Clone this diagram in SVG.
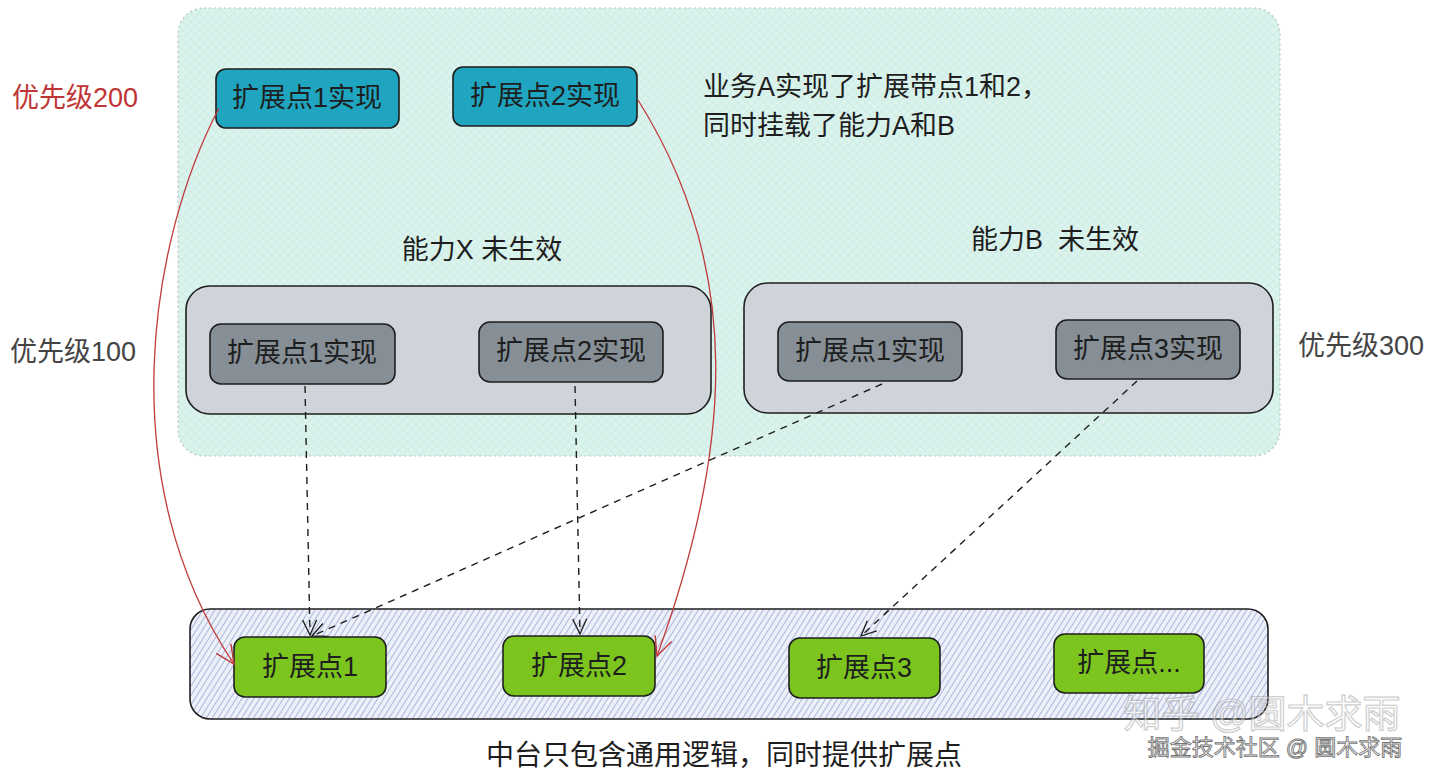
<svg xmlns="http://www.w3.org/2000/svg" width="1440" height="782" viewBox="0 0 1440 782">
<style>
text{font-family:"Liberation Sans","Noto Sans CJK SC",sans-serif;font-size:27px;fill:#1e1e1e;dominant-baseline:central;text-anchor:middle}
.lbl{text-anchor:start}
.cyan{fill:#1fa5bf;stroke:#1e1e1e;stroke-width:1.6}
.dark{fill:#868e96;stroke:#1e1e1e;stroke-width:1.6}
.grey{fill:#ced4da;stroke:#1e1e1e;stroke-width:1.6}
.green{fill:#7cc51f;stroke:#1e1e1e;stroke-width:1.6}
.dash{fill:none;stroke:#1e1e1e;stroke-width:1.4;stroke-dasharray:7 6;marker-end:url(#ah)}
.red{fill:none;stroke:#c03a3a;stroke-width:1.3;marker-end:url(#ahr)}
</style>
<defs>
<pattern id="hatch" patternUnits="userSpaceOnUse" width="5" height="5" patternTransform="rotate(32)">
<rect width="5" height="5" fill="#eef0f8"/>
<line x1="0" y1="0" x2="0" y2="5" stroke="#8599d2" stroke-width="1.3"/>
</pattern>
<pattern id="mint" patternUnits="userSpaceOnUse" width="6" height="6" patternTransform="rotate(45)">
<rect width="6" height="6" fill="#dbf3ed"/>
<line x1="0" y1="0" x2="0" y2="6" stroke="#c6e8df" stroke-width="1"/>
<line x1="0" y1="0" x2="6" y2="0" stroke="#c6e8df" stroke-width="1"/>
</pattern>
<marker id="ah" markerUnits="userSpaceOnUse" markerWidth="20" markerHeight="20" refX="16" refY="8" orient="auto" viewBox="0 0 20 16">
<path d="M1,1 L16,8 L1,15" fill="none" stroke="#1e1e1e" stroke-width="1.3"/>
</marker>
<marker id="ahr" markerUnits="userSpaceOnUse" markerWidth="22" markerHeight="22" refX="18" refY="9" orient="auto" viewBox="0 0 20 18">
<path d="M1,1 L18,9 L1,17" fill="none" stroke="#c03a3a" stroke-width="1.3"/>
</marker>
</defs>
<rect width="1440" height="782" fill="#ffffff"/>

<g id="business-area">
<rect x="178" y="8" width="1102" height="448" rx="26" fill="url(#mint)" stroke="#b9c4c0" stroke-width="1.2" stroke-dasharray="2 3"/>
</g>

<g id="label-p200"><text class="lbl" x="12" y="98" style="fill:#bf3434">优先级200</text></g>
<g id="label-p100"><text class="lbl" x="10" y="352" style="fill:#444">优先级100</text></g>
<g id="label-p300"><text class="lbl" x="1298" y="346" style="fill:#444">优先级300</text></g>

<g id="biz-impl1"><rect class="cyan" x="216" y="69" width="183" height="59" rx="10"/><text x="307" y="98">扩展点1实现</text></g>
<g id="biz-impl2"><rect class="cyan" x="453" y="67" width="184" height="59" rx="10"/><text x="545" y="96">扩展点2实现</text></g>

<g id="biz-desc">
<text class="lbl" x="703" y="87">业务A实现了扩展带点1和2，</text>
<text class="lbl" x="703" y="126">同时挂载了能力A和B</text>
</g>

<g id="ability-x">
<text x="482" y="250">能力X 未生效</text>
<rect class="grey" x="186" y="286" width="525" height="128" rx="24"/>
<g id="ax-impl1"><rect class="dark" x="210" y="324" width="185" height="60" rx="11"/><text x="302" y="353">扩展点1实现</text></g>
<g id="ax-impl2"><rect class="dark" x="479" y="322" width="184" height="60" rx="11"/><text x="571" y="351">扩展点2实现</text></g>
</g>

<g id="ability-b">
<text x="1055" y="240" xml:space="preserve">能力B  未生效</text>
<rect class="grey" x="744" y="283" width="529" height="130" rx="24"/>
<g id="bb-impl1"><rect class="dark" x="778" y="322" width="184" height="59" rx="11"/><text x="870" y="351">扩展点1实现</text></g>
<g id="bb-impl3"><rect class="dark" x="1056" y="320" width="184" height="59" rx="11"/><text x="1148" y="349">扩展点3实现</text></g>
</g>

<g id="platform">
<rect x="190" y="609" width="1078" height="110" rx="20" fill="url(#hatch)" stroke="#1e1e1e" stroke-width="1.6"/>
<g id="ep1"><rect class="green" x="234" y="637" width="152" height="60" rx="11"/><text x="310" y="667">扩展点1</text></g>
<g id="ep2"><rect class="green" x="503" y="636" width="152" height="60" rx="11"/><text x="579" y="666">扩展点2</text></g>
<g id="ep3"><rect class="green" x="789" y="638" width="151" height="60" rx="11"/><text x="864" y="668">扩展点3</text></g>
<g id="ep4"><rect class="green" x="1054" y="634" width="150" height="59" rx="11"/><text x="1129" y="663">扩展点...</text></g>
</g>

<g id="platform-caption"><text x="724" y="755" style="font-size:28px">中台只包含通用逻辑，同时提供扩展点</text></g>

<g id="connectors">
<path class="red" d="M219 108 C150 240, 110 480, 234 664"/>
<path class="red" d="M638 100 C745 270, 732 450, 657 656"/>
<path class="dash" d="M305 386 L310 635"/>
<path class="dash" d="M575 386 L580 634"/>
<path class="dash" d="M882 384 L312 636"/>
<path class="dash" d="M1137 381 L861 636"/>
</g>

<g id="watermark" opacity="0.8">
<text x="1262" y="714" style="font-size:38px;fill:#ffffff;stroke:#9a9a9a;stroke-width:1.2" opacity="0.6">知乎 @圆木求雨</text>
<text x="1275" y="747" style="font-size:22px;fill:#ffffff;stroke:#555;stroke-width:0.9">掘金技术社区 @ 圆木求雨</text>
</g>
</svg>
